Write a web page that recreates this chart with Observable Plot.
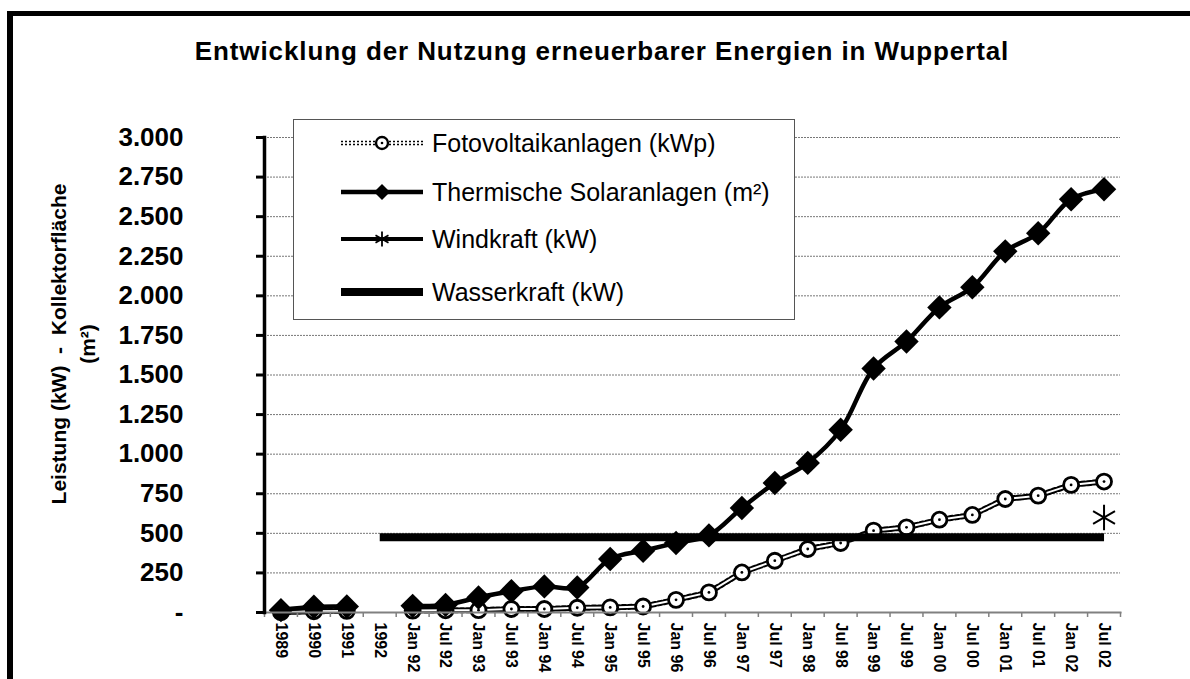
<!DOCTYPE html>
<html>
<head>
<meta charset="utf-8">
<script src="https://cdn.jsdelivr.net/npm/d3@7"></script>
<script src="https://cdn.jsdelivr.net/npm/@observablehq/plot@0.6"></script>
<style>
  html, body { margin: 0; padding: 0; background: #fff; }
  #wrap { position: relative; width: 1190px; height: 679px; overflow: hidden; font-family: "Liberation Sans", Arial, sans-serif; }
  #border { position: absolute; left: 7px; top: 11px; width: 1300px; height: 800px; border-left: 6px solid #000; border-top: 5px solid #000; }
  #chart { position: absolute; left: 0; top: 0; }
  #title { position: absolute; left: 14px; width: 1176px; top: 38px; line-height: 26px; text-align: center; font-weight: bold; font-size: 26px; letter-spacing: 0.9px; color: #000; }
  #legend { position: absolute; left: 293px; top: 119px; width: 500px; height: 199px; border: 1.5px solid #555; background: #fff; }
  .row { position: absolute; left: 341px; height: 30px; display: flex; align-items: center; font-size: 25px; color: #000; white-space: nowrap; }
  .row svg { margin-right: 9px; flex: none; }
</style>
</head>
<body>
<div id="wrap">
  <div id="border"></div>
  <div id="chart"></div>
  <div id="title"></div>
  <div id="legend"></div>
</div>
<script>
// ---- data ----
const categories = ["1989","1990","1991","1992","Jan 92","Jul 92","Jan 93","Jul 93","Jan 94","Jul 94",
  "Jan 95","Jul 95","Jan 96","Jul 96","Jan 97","Jul 97","Jan 98","Jul 98","Jan 99","Jul 99",
  "Jan 00","Jul 00","Jan 01","Jul 01","Jan 02","Jul 02"];
const fotovoltaik = [2, 8, 10, null, 12, 14, 15, 22, 22, 30,
  32, 38, 80, 127, 253, 327, 401, 439, 517, 538,
  586, 616, 717, 738, 806, 827];
const thermisch = [15, 36, 38, null, 42, 48, 95, 135, 165, 158,
  338, 390, 439, 487, 660, 818, 945, 1154, 1541, 1712,
  1927, 2054, 2281, 2395, 2610, 2673];
const windkraft = [null, null, null, null, null, null, null, null, null, null,
  null, null, null, null, null, null, null, null, null, null,
  null, null, null, null, null, 600];
const wasserkraft = [null, null, null, 475, 475, 475, 475, 475, 475, 475,
  475, 475, 475, 475, 475, 475, 475, 475, 475, 475,
  475, 475, 475, 475, 475, 475];
const yTicks = [0, 250, 500, 750, 1000, 1250, 1500, 1750, 2000, 2250, 2500, 2750, 3000];
const seriesNames = ["Fotovoltaikanlagen (kWp)", "Thermische Solaranlagen (m²)", "Windkraft (kW)", "Wasserkraft (kW)"];
const titleText = "Entwicklung der Nutzung erneuerbarer Energien in Wuppertal";
const yLabel = "Leistung (kW)  -  Kollektorfläche\n(m²)";

// ---- table ----
const rows = categories.map((c, i) => ({
  i, c,
  pv: fotovoltaik[i], th: thermisch[i], wind: windkraft[i], wasser: wasserkraft[i]
}));

const de = d3.formatLocale({decimal: ",", thousands: ".", grouping: [3], currency: ["", " €"]});
const fmtDe = de.format(",");
const fmt = v => v === 0 ? "-" : fmtDe(v);

const chart = Plot.plot({
  width: 1190,
  height: 679,
  marginLeft: 264,
  marginRight: 70,
  marginTop: 137,
  marginBottom: 67,
  style: {fontFamily: "'Liberation Sans', Arial, sans-serif", background: "transparent", overflow: "visible"},
  x: {domain: [-0.5, categories.length - 0.5]},
  y: {domain: [0, 3000]},
  marks: [
    Plot.gridY({ticks: yTicks.filter(v => v > 0), stroke: "#777", strokeOpacity: 1, strokeWidth: 1, strokeDasharray: "2,1"}),
    // Fotovoltaik: double dotted line with hollow circles
    Plot.line(rows, {x: "i", y: "pv", stroke: "black", strokeWidth: 6, strokeDasharray: "3,3"}),
    Plot.line(rows, {x: "i", y: "pv", stroke: "white", strokeWidth: 2}),
    Plot.dot(rows, {x: "i", y: "pv", r: 7.5, fill: "white", stroke: "black", strokeWidth: 2.8}),
    Plot.dot(rows, {x: "i", y: "pv", r: 1.4, fill: "black"}),
    // Thermische Solaranlagen: smoothed thick line with diamonds
    Plot.line(rows, {x: "i", y: "th", stroke: "black", strokeWidth: 4.5, curve: "catmull-rom"}),
    Plot.dot(rows, {x: "i", y: "th", symbol: "diamond2", r: 11, fill: "black"}),
    // Wasserkraft: thick bar
    Plot.line(rows, {x: "i", y: "wasser", stroke: "black", strokeWidth: 8, strokeLinecap: "butt"}),
    // Windkraft: asterisk
    Plot.dot(rows, {x: "i", y: "wind", symbol: "asterisk", r: 12, stroke: "black", strokeWidth: 2}),
    // axes
    Plot.axisY({ticks: yTicks, tickFormat: fmt, tickSize: 8, tickPadding: 73, fontSize: 26, fontWeight: "bold", stroke: "black", strokeWidth: 3, label: null}),
    Plot.axisX({ticks: d3.range(categories.length + 1).map(i => i - 0.5), tickSize: 5, tickFormat: () => "", stroke: "#808080", strokeWidth: 1.5, label: null}),
    Plot.axisX({ticks: d3.range(categories.length), tickFormat: i => categories[i], tickSize: 0, tickPadding: 10, tickRotate: 90, fontSize: 16, fontWeight: "bold", label: null}),
    Plot.frame({anchor: "bottom", stroke: "#808080", strokeWidth: 2}),
    Plot.frame({anchor: "left", stroke: "black", strokeWidth: 3.5}),
    Plot.text([yLabel], {text: d => d, frameAnchor: "left", rotate: -90, dx: -193, dy: -31, fontSize: 21, fontWeight: "bold", lineHeight: 1.35, textAnchor: "middle", fill: "black"})
  ]
});
document.getElementById("chart").appendChild(chart);
document.getElementById("title").textContent = titleText;

// ---- legend ----
const ns = "http://www.w3.org/2000/svg";
const rowCenters = [143, 192, 239, 292];
function sample(k) {
  let s = '<svg width="82" height="30" xmlns="' + ns + '">';
  if (k === 0) {
    s += '<line x1="0" y1="15" x2="82" y2="15" stroke="black" stroke-width="4.5" stroke-dasharray="2,2"/>';
    s += '<line x1="0" y1="15" x2="82" y2="15" stroke="white" stroke-width="1.4"/>';
    s += '<circle cx="41" cy="15" r="6" fill="white" stroke="black" stroke-width="2.4"/>';
    s += '<circle cx="41" cy="15" r="1.3" fill="black"/>';
  } else if (k === 1) {
    s += '<line x1="0" y1="15" x2="82" y2="15" stroke="black" stroke-width="4.5"/>';
    s += '<polygon points="41,7 49,15 41,23 33,15" fill="black"/>';
  } else if (k === 2) {
    s += '<line x1="0" y1="15" x2="82" y2="15" stroke="black" stroke-width="4"/>';
    s += '<g stroke="black" stroke-width="1.8"><line x1="41" y1="7.5" x2="41" y2="22.5"/><line x1="34.5" y1="11.25" x2="47.5" y2="18.75"/><line x1="34.5" y1="18.75" x2="47.5" y2="11.25"/></g>';
  } else {
    s += '<rect x="0" y="11" width="82" height="8" fill="black"/>';
  }
  return s + '</svg>';
}
const wrap = document.getElementById("wrap");
seriesNames.forEach((name, k) => {
  const d = document.createElement("div");
  d.className = "row";
  d.style.top = (rowCenters[k] - 15) + "px";
  d.innerHTML = sample(k) + "<span>" + name + "</span>";
  wrap.appendChild(d);
});
</script>
</body>
</html>
